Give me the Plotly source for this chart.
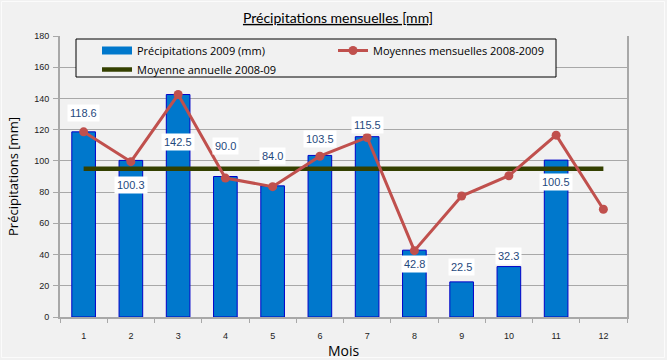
import plotly.graph_objects as go

months = ["1", "2", "3", "4", "5", "6", "7", "8", "9", "10", "11", "12"]
precip_2009 = [118.6, 100.3, 142.5, 90.0, 84.0, 103.5, 115.5, 42.8, 22.5, 32.3, 100.5, None]
moy_mensuelles = [118.6, 99.5, 142.5, 89.0, 83.5, 103.0, 115.0, 42.5, 77.5, 90.5, 116.5, 69.0]
moy_annuelle = 95.0
y_ticks = [0, 20, 40, 60, 80, 100, 120, 140, 160, 180]

# label offsets in pixels (positive = above bar top)
label_shift = [19, -25, -47, 31, 30, 16, 12, -14, 15, 11, -22, 0]

BLUE = "#0078CC"
BLUE_EDGE = "#0000C8"
RED = "#C0504D"
GREEN = "#344000"
BG = "#F1F1F1"
GRID = "#A8A8A8"

fig = go.Figure()

fig.add_trace(go.Bar(
    x=months, y=precip_2009, width=0.5,
    marker=dict(color=BLUE, line=dict(color=BLUE_EDGE, width=1)),
    name="Précipitations 2009 (mm)", showlegend=False, hoverinfo="x+y",
))
# legend proxy for the bars
fig.add_trace(go.Scatter(
    x=[None], y=[None], mode="lines",
    line=dict(color=BLUE, width=8),
    name="Précipitations 2009 (mm)", legendrank=1,
))
fig.add_trace(go.Scatter(
    x=months, y=[moy_annuelle] * len(months), mode="lines",
    line=dict(color=GREEN, width=4.5),
    name="Moyenne annuelle 2008-09", legendrank=3,
))
fig.add_trace(go.Scatter(
    x=months, y=moy_mensuelles, mode="lines+markers",
    line=dict(color=RED, width=3),
    marker=dict(color=RED, size=9),
    name="Moyennes mensuelles 2008-2009", legendrank=2,
))

for i, (v, s) in enumerate(zip(precip_2009, label_shift)):
    if v is None:
        continue
    fig.add_annotation(
        x=i, y=v, text=f"{v:.1f}", showarrow=False, yshift=s,
        bgcolor="white", borderpad=2,
        font=dict(family="Liberation Sans, Arial", size=11, color="#1F497D"),
    )

W, H = 667, 360
L, R, T, B = 60, 40, 36, 43
pw, ph = W - L - R, H - T - B

def px_x(v):
    return (v - L) / pw

def px_y(v):
    return 1 - (v - T) / ph

# faint outer frame
fig.add_shape(type="rect", xref="paper", yref="paper",
              x0=px_x(1.5), x1=px_x(664.5), y0=px_y(357.5), y1=px_y(1.5),
              line=dict(color="#FBFBFB", width=1), layer="below")
# legend box
fig.add_shape(type="rect", xref="paper", yref="paper",
              x0=px_x(76), x1=px_x(556), y0=px_y(77), y1=px_y(39),
              line=dict(color="black", width=1), fillcolor=BG, layer="above")

fig.update_layout(
    width=W, height=H,
    margin=dict(l=L, r=R, t=T, b=B),
    paper_bgcolor=BG, plot_bgcolor=BG,
    title=dict(text="<u>Précipitations mensuelles [mm]</u>", x=338 / W, xanchor="center",
               y=1 - 18 / H, yanchor="middle",
               font=dict(family="Lato, Open Sans", size=14, color="black")),
    showlegend=True,
    legend=dict(orientation="h", x=px_x(97), y=px_y(36), xanchor="left", yanchor="top",
                bgcolor="rgba(0,0,0,0)", borderwidth=0, entrywidth=191,
                font=dict(family="Open Sans", size=11, color="black"),
                tracegroupgap=0, itemwidth=30),
    bargap=0.5,
    font=dict(family="Liberation Sans, Arial", color="black"),
)
fig.update_xaxes(
    type="category", range=[-0.5, 11.5], automargin=False,
    showline=True, linecolor=GRID, linewidth=2,
    ticks="outside", tickson="boundaries", ticklen=4, tickcolor=GRID, tickwidth=1,
    showgrid=False, ticklabelstandoff=9,
    tickfont=dict(family="Liberation Sans, Arial", size=9, color="#222"),
    title=dict(text="Mois", standoff=8,
               font=dict(family="Open Sans", size=14, color="black")),
)
fig.update_yaxes(
    range=[0, 180], tickvals=y_ticks, automargin=False,
    showline=True, linecolor=GRID, linewidth=2, mirror=True,
    ticks="outside", ticklen=5, tickcolor=GRID, ticklabelstandoff=2,
    showgrid=True, gridcolor=GRID, gridwidth=1, zeroline=False,
    tickfont=dict(family="Liberation Sans, Arial", size=9, color="#222"),
    title=dict(text="Précipitations [mm]", standoff=13,
               font=dict(family="Open Sans", size=13, color="black")),
)

fig.write_html("out.html", config={"displayModeBar": False},
               post_script="document.body.style.margin='0';")
